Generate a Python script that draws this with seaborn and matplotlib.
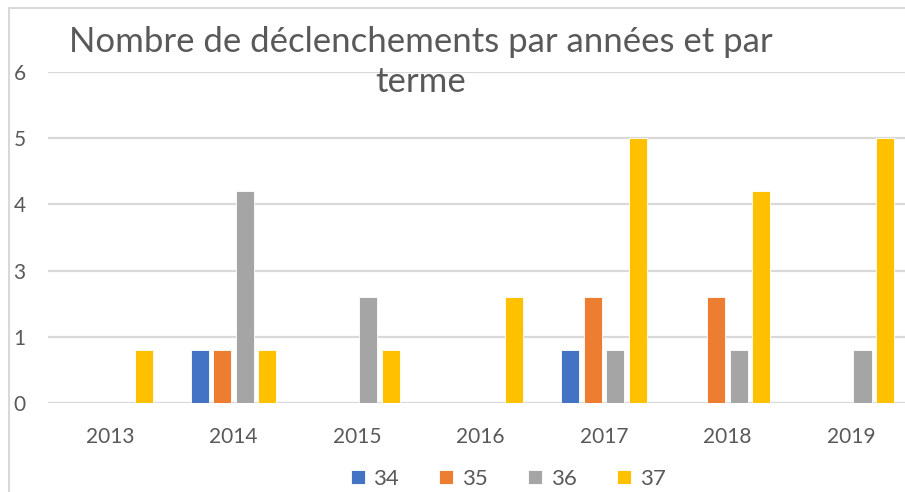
import numpy as np
import pandas as pd
import matplotlib
matplotlib.use("Agg")
import matplotlib.pyplot as plt
import seaborn as sns
from matplotlib.patches import Rectangle

years = ["2013", "2014", "2015", "2016", "2017", "2018", "2019"]
terms = ["34", "35", "36", "37"]
t34 = [0, 0.8, 0, 0, 0.8, 0, 0]
t35 = [0, 0.8, 0, 0, 1.6, 1.6, 0]
t36 = [0, 3.2, 1.6, 0, 0.8, 0.8, 0.8]
t37 = [0.8, 0.8, 0.8, 1.6, 4.0, 3.2, 4.0]
ytick_labels = ["0", "1", "3", "4", "5", "6"]
title = "Nombre de déclenchements par années et par\nterme"
colors = ["#4472C4", "#ED7D31", "#A5A5A5", "#FFC000"]

rows = []
for term, vals in zip(terms, [t34, t35, t36, t37]):
    for y, v in zip(years, vals):
        if v > 0:
            rows.append({"year": y, "terme": term, "value": v})
df = pd.DataFrame(rows)

sns.set_style("white")
plt.rcParams["font.family"] = ["Lato", "DejaVu Sans"]
txt = "#595959"
grid = "#D9D9D9"

W, H = 905, 492
fig = plt.figure(figsize=(W / 100, H / 100), dpi=100)
ax = fig.add_axes([48 / W, 1 - 403 / H, 865 / W, 331 / H])

sns.barplot(data=df, x="year", y="value", hue="terme", order=years,
            hue_order=terms, palette=colors, saturation=1, width=0.73, gap=0.2,
            edgecolor="white", linewidth=0.6, ax=ax, legend=True)

ax.set_ylim(0, 5)
ax.set_xlim(-0.5, 6.5)
ax.set_yticks(range(6))
ax.set_yticklabels(ytick_labels)
ax.yaxis.grid(True, color=grid, linewidth=1.6)
ax.set_axisbelow(True)
for s in ax.spines.values():
    s.set_visible(False)
ax.tick_params(axis="y", length=0, pad=16, labelsize=15, labelcolor=txt)
ax.tick_params(axis="x", length=0, pad=17, labelsize=15, labelcolor=txt)
ax.set_xlabel("")
ax.set_ylabel("")

handles, labels = ax.get_legend_handles_labels()
ax.get_legend().remove()
fig.legend(handles, labels, loc="center", bbox_to_anchor=(508 / W, 1 - 479 / H),
           bbox_transform=fig.transFigure, ncol=4, frameon=False,
           handlelength=0.63, handleheight=0.63, handletextpad=0.4,
           columnspacing=1.8, fontsize=16, labelcolor=txt)

fig.text(421 / W, 1 - 62 / H, title, ha="center", va="center", fontsize=25,
         color=txt, linespacing=1.3)

fig.patches.append(Rectangle((9 / W, -0.1), 1.2, 1.1 - 8 / H, transform=fig.transFigure,
                             fill=False, edgecolor=grid, linewidth=1.5))

fig.savefig("out.png", dpi=100)
